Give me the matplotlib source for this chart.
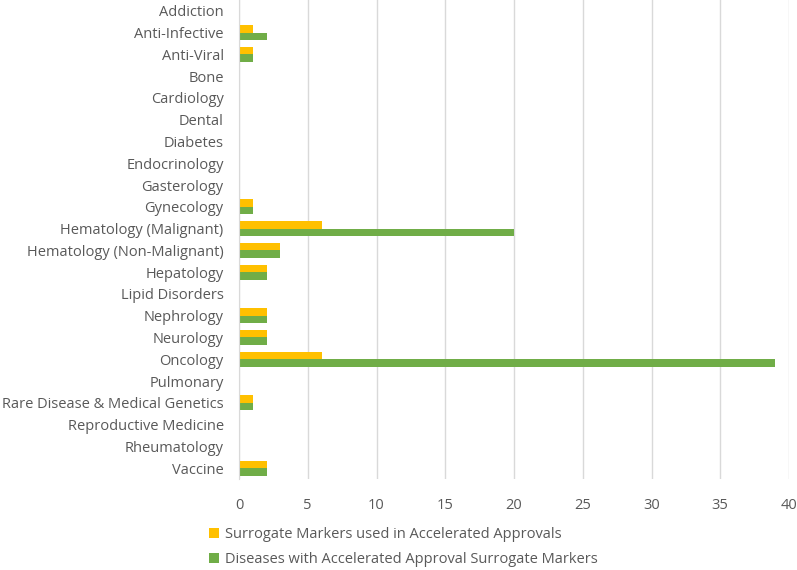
import matplotlib
matplotlib.use("Agg")
import matplotlib.pyplot as plt
import numpy as np

plt.rcParams['font.family'] = ['Open Sans', 'DejaVu Sans']

categories = ["Addiction", "Anti-Infective", "Anti-Viral", "Bone", "Cardiology", "Dental",
              "Diabetes", "Endocrinology", "Gasterology", "Gynecology", "Hematology (Malignant)",
              "Hematology (Non-Malignant)", "Hepatology", "Lipid Disorders", "Nephrology",
              "Neurology", "Oncology", "Pulmonary", "Rare Disease & Medical Genetics",
              "Reproductive Medicine", "Rheumatology", "Vaccine"]
surrogate = [0, 1, 1, 0, 0, 0, 0, 0, 0, 1, 6, 3, 2, 0, 2, 2, 6, 0, 1, 0, 0, 2]
diseases = [0, 2, 1, 0, 0, 0, 0, 0, 0, 1, 20, 3, 2, 0, 2, 2, 39, 0, 1, 0, 0, 2]
label_s = "Surrogate Markers used in Accelerated Approvals"
label_d = "Diseases with Accelerated Approval Surrogate Markers"

txt = "#595959"
fig = plt.figure(figsize=(7.97, 5.70), dpi=100)
ax = fig.add_axes([239/797, 1 - 479/570, 550/797, 479/570])

n = len(categories)
y = np.arange(n)
h = 0.34
ax.barh(y - h/2, surrogate, height=h, color="#FFC000", label=label_s)
ax.barh(y + h/2, diseases, height=h, color="#70AD47", label=label_d)

ax.set_ylim(n - 0.5, -0.5)
ax.set_xlim(0, 40)
ax.set_xticks(range(0, 41, 5))
ax.set_yticks(y)
ax.set_yticklabels(categories)
ax.xaxis.grid(True, color="#D9D9D9", linewidth=1)
ax.set_axisbelow(True)
for s in ["top", "right", "bottom"]:
    ax.spines[s].set_visible(False)
ax.spines["left"].set_color("#D9D9D9")
ax.tick_params(axis="both", length=0, colors=txt, labelsize=10.5)
ax.tick_params(axis="y", pad=11)
ax.tick_params(axis="x", pad=14)

fig.legend(loc="upper left", bbox_to_anchor=(196/797, 1 - 514/570), ncol=1, frameon=False,
           fontsize=10.5, labelcolor=txt, handlelength=0.7, handleheight=0.7,
           handletextpad=0.4, labelspacing=0.7)

fig.savefig("out.png", dpi=100)
